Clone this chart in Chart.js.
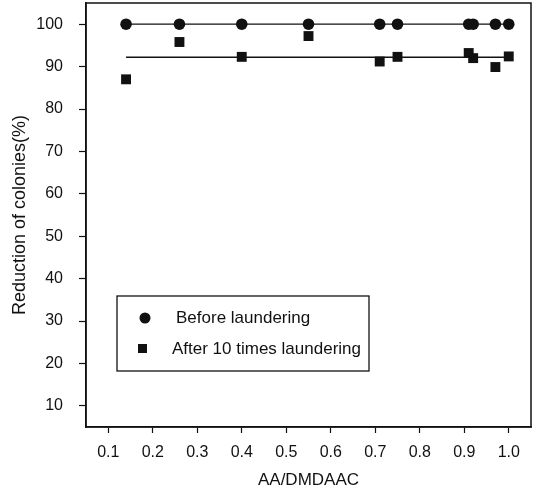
<!DOCTYPE html>
<html>
<head>
<meta charset="utf-8">
<script src="https://cdn.jsdelivr.net/npm/chart.js@4"></script>
<style>
    body { margin: 0; background: #fff; }
    #wrap { width: 533px; height: 491px; }
</style>
</head>
<body>
<div id="wrap"><canvas id="colonyChart" width="533" height="491"></canvas></div>
<script>
const ratios = [0.14, 0.26, 0.40, 0.55, 0.71, 0.75, 0.91, 0.92, 0.97, 1.00];
const beforeValues = [100, 100, 100, 100, 100, 100, 100, 100, 100, 100];
const afterValues = [87.0, 95.8, 92.3, 97.2, 91.2, 92.3, 93.2, 92.0, 89.9, 92.4];
const afterFitX = [0.14, 1.00];
const afterFitY = [92.2, 92.2];
const xTicks = [0.1, 0.2, 0.3, 0.4, 0.5, 0.6, 0.7, 0.8, 0.9, 1.0];
const yTicks = [10, 20, 30, 40, 50, 60, 70, 80, 90, 100];
const legendLabels = ["Before laundering", "After 10 times laundering"];

const FONT = "'Liberation Sans', Arial, sans-serif";
const INK = "#111";

function toPoints(xs, ys) {
    return xs.map((x, i) => ({ x: x, y: ys[i] }));
}

// ticks sit well inside the range, so no extra room for half labels
function noEdgePadding(scale) {
    scale.paddingTop = 0;
    scale.paddingBottom = 0;
    scale.paddingLeft = 0;
    scale.paddingRight = 0;
}

// frame round the plot and the boxed legend inside it
const framePlugin = {
    id: "frame",
    afterDraw(chart) {
        const { ctx, chartArea } = chart;
        ctx.save();
        ctx.strokeStyle = INK;
        ctx.lineWidth = 1.5;
        ctx.strokeRect(chartArea.left, chartArea.top, chartArea.right - chartArea.left, chartArea.bottom - chartArea.top);

        const bx = chartArea.left + 31, by = chartArea.top + 293;
        ctx.lineWidth = 1.3;
        ctx.strokeRect(bx, by, 252, 75);

        ctx.fillStyle = INK;
        ctx.beginPath();
        ctx.arc(bx + 28, by + 22, 5.5, 0, Math.PI * 2);
        ctx.fill();
        ctx.fillRect(bx + 21, by + 48, 9, 9);

        ctx.font = "17px " + FONT;
        ctx.textBaseline = "middle";
        ctx.fillText(legendLabels[0], bx + 59, by + 22);
        ctx.fillText(legendLabels[1], bx + 55, by + 53);
        ctx.restore();
    }
};

const ctx = document.getElementById("colonyChart").getContext("2d");
new Chart(ctx, {
    type: "scatter",
    data: {
        datasets: [
            {
                label: legendLabels[0],
                data: toPoints(ratios, beforeValues),
                showLine: true,
                borderColor: INK,
                borderWidth: 1.3,
                backgroundColor: INK,
                pointStyle: "circle",
                pointRadius: 5.8,
                pointBorderWidth: 0,
            },
            {
                label: "fit",
                data: toPoints(afterFitX, afterFitY),
                showLine: true,
                borderColor: INK,
                borderWidth: 1.3,
                pointRadius: 0,
            },
            {
                label: legendLabels[1],
                data: toPoints(ratios, afterValues),
                showLine: false,
                backgroundColor: INK,
                borderColor: INK,
                pointStyle: "rect",
                pointRadius: 7,
                pointBorderWidth: 0,
            }
        ],
    },
    options: {
        responsive: false,
        animation: false,
        layout: { autoPadding: false, padding: { top: 3, right: 2, left: 0, bottom: 0 } },
        plugins: {
            legend: { display: false },
            tooltip: { enabled: false },
        },
        scales: {
            x: {
                type: "linear",
                min: 0.05,
                max: 1.05,
                afterBuildTicks: (scale) => { scale.ticks = xTicks.map((v) => ({ value: v })); },
                afterFit: (scale) => { scale.height = 64; noEdgePadding(scale); },
                grid: { drawOnChartArea: false, drawTicks: true, tickLength: 6, tickColor: INK, tickWidth: 1.2 },
                border: { display: true, color: INK, width: 1.5 },
                ticks: {
                    color: INK,
                    font: { family: FONT, size: 16 },
                    padding: 10,
                    maxRotation: 0,
                    autoSkip: false,
                    callback: (value) => Number(value).toFixed(1),
                },
                title: {
                    display: true,
                    text: "AA/DMDAAC",
                    color: INK,
                    font: { family: FONT, size: 17 },
                    padding: { top: 0, bottom: 0 },
                },
            },
            y: {
                type: "linear",
                min: 5,
                max: 105,
                afterBuildTicks: (scale) => { scale.ticks = yTicks.map((v) => ({ value: v })); },
                afterFit: (scale) => { scale.width = 86; noEdgePadding(scale); },
                grid: { drawOnChartArea: false, drawTicks: true, tickLength: 7, tickColor: INK, tickWidth: 1.2 },
                border: { display: true, color: INK, width: 1.5 },
                ticks: {
                    color: INK,
                    font: { family: FONT, size: 16 },
                    padding: 16,
                    autoSkip: false,
                },
                title: {
                    display: true,
                    text: "Reduction of colonies(%)",
                    color: INK,
                    font: { family: FONT, size: 18 },
                    padding: { top: 9, bottom: 0 },
                },
            },
        },
    },
    plugins: [framePlugin],
});
</script>
</body>
</html>
